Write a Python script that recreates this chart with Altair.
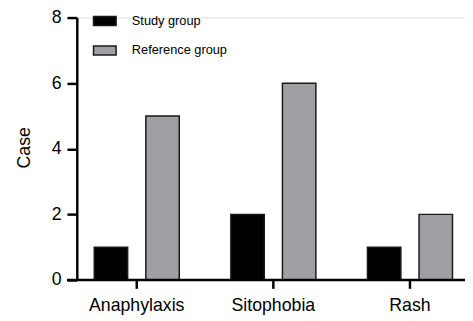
import altair as alt
import pandas as pd

categories = ["Anaphylaxis", "Sitophobia", "Rash"]
groups = ["Study group", "Reference group"]
study_values = [1, 2, 1]
reference_values = [5, 6, 2]
y_ticks = [0, 2, 4, 6, 8]

rows = []
for c, s, r in zip(categories, study_values, reference_values):
    rows.append({"category": c, "group": groups[0], "value": s})
    rows.append({"category": c, "group": groups[1], "value": r})
df = pd.DataFrame(rows)
cat_df = pd.DataFrame({"category": categories})

W, H = 395, 267
FONT = "Liberation Sans"

xscale = alt.Scale(range=[-8.5, 408.5], paddingInner=0, paddingOuter=0)

bars = alt.Chart(df).mark_bar(stroke="#1a1a1a", strokeWidth=1.5).encode(
    x=alt.X("category:N", sort=categories, scale=xscale,
            axis=alt.Axis(title=None, domain=False, ticks=False, labelFontSize=18,
                          labelFont=FONT, labelColor="black", labelPadding=17,
                          labelAngle=0)),
    xOffset=alt.XOffset("group:N", sort=groups,
                        scale=alt.Scale(paddingInner=0.352, paddingOuter=0.5)),
    y=alt.Y("value:Q", scale=alt.Scale(domain=[0, 8]),
            axis=alt.Axis(title="Case", values=y_ticks, grid=False,
                          domainWidth=2.5, domainColor="black", tickSize=10,
                          tickWidth=2.5, tickColor="black", labelFontSize=18,
                          labelFont=FONT, labelColor="black", labelPadding=6,
                          titleFontSize=18, titleFont=FONT, titleFontWeight="normal",
                          titleColor="black", titleX=-44, titleY=132)),
    color=alt.Color("group:N", sort=groups,
                    scale=alt.Scale(domain=groups, range=["#000000", "#a09fa4"]),
                    legend=alt.Legend(title=None, orient="none", legendX=16, legendY=-9,
                                      symbolType="M-1,-0.39H1V0.39H-1Z", symbolSize=529,
                                      symbolStrokeColor="#1a1a1a", symbolStrokeWidth=1.5,
                                      symbolOpacity=1, labelFontSize=13, labelFont=FONT,
                                      labelColor="black", labelOffset=15, rowPadding=10)),
)

xticks = alt.Chart(cat_df).mark_rule(color="black", strokeWidth=2.5, clip=False).encode(
    x=alt.X("category:N", sort=categories, scale=xscale),
    y=alt.value(H), y2=alt.value(H + 9),
)

xline = alt.Chart(pd.DataFrame({"v": [0]})).mark_rule(color="black", strokeWidth=2.5,
                                                      clip=False).encode(
    x=alt.value(-10), x2=alt.value(W), y=alt.value(H)
)

chart = alt.layer(bars, xticks, xline).properties(
    width=W, height=H,
    autosize=alt.AutoSizeParams(type="none"),
    padding={"left": 70, "top": 7, "right": 0, "bottom": 39},
).configure_view(stroke=None, clip=False).configure(background="white")

chart.save("out.html", embed_options={"renderer": "svg", "actions": False})
